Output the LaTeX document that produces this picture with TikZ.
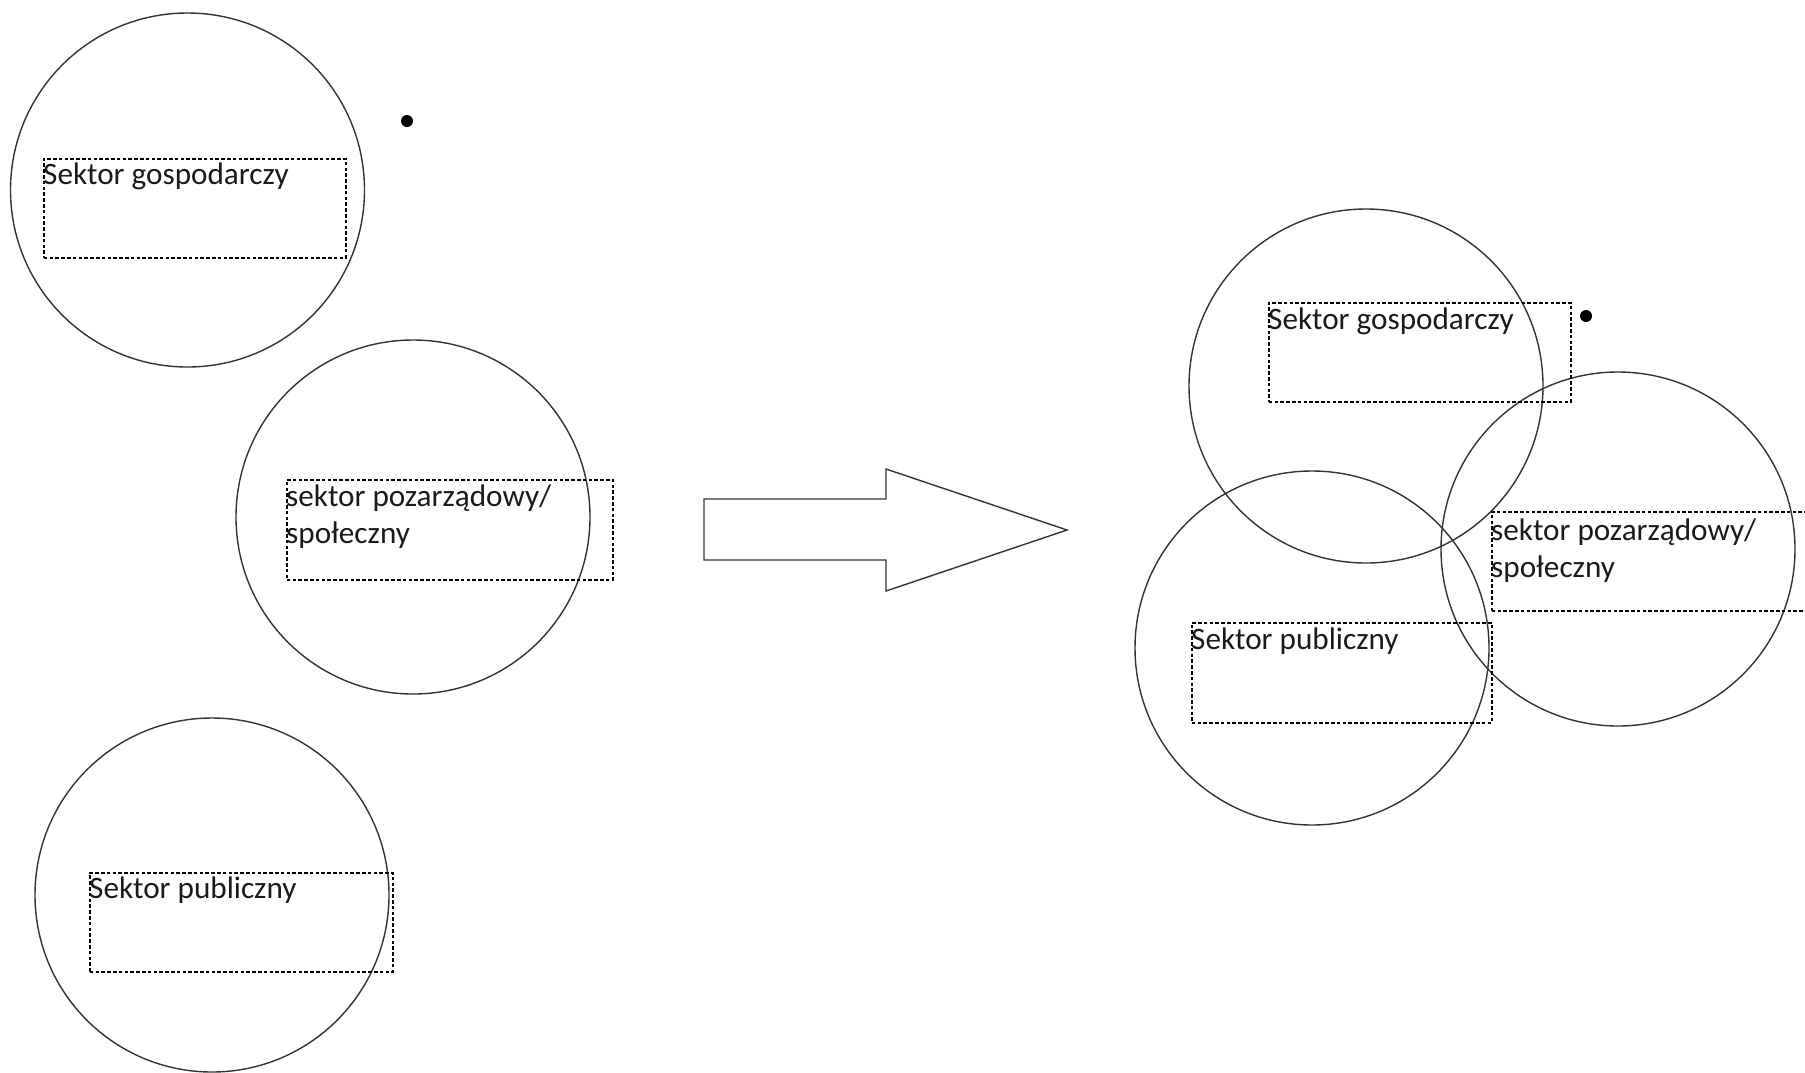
\documentclass[tikz,border=0pt]{standalone}
\usepackage{fontspec}
\setmainfont{Carlito}
\definecolor{linec}{HTML}{333333}
\definecolor{txt}{HTML}{1A1A1A}
\begin{document}
\begin{tikzpicture}[x=1pt,y=-1pt,
  sector/.style={circle, draw=linec, line width=1.4pt, minimum size=354pt, inner sep=0pt},
  tbox/.style={draw=black, dash pattern=on 3.6pt off 2.2pt, line width=1.6pt, anchor=north west, inner sep=0pt, minimum height=99pt},
  lbl/.style={anchor=base west, inner sep=0pt, font=\fontsize{31.2}{37}\selectfont, text=txt, align=left},
  dotn/.style={circle, fill=black, minimum size=12pt, inner sep=0pt},
  bigarrow/.style={draw=linec, line width=1.4pt, line join=miter}]
\clip (0,0) rectangle (1805,1072);
% left side
\node[sector] (c1) at (187.5,190) {};
\node[sector] (c2) at (413,517) {};
\node[sector] (c3) at (212,895) {};
\node[tbox, minimum width=302pt] (b1) at (43,158) {};
\node[tbox, minimum width=326pt, minimum height=100pt] (b2) at (286,479) {};
\node[tbox, minimum width=303pt] (b3) at (89,872) {};
\node[lbl] (t1) at (43,184) {Sektor gospodarczy};
\node[lbl] (t2) at (286,543) {sektor pozarządowy/\\społeczny};
\node[lbl] (t3) at (89,898) {Sektor publiczny};
\node[dotn] (d1) at (407,121) {};
% arrow
\draw[bigarrow] (704,499) -- (886,499) -- (886,469) -- (1067,530) -- (886,591) -- (886,560) -- (704,560) -- cycle;
% right side
\node[sector] (ca) at (1366,386) {};
\node[sector] (cb) at (1618,549) {};
\node[sector] (cc) at (1312,648) {};
\node[tbox, minimum width=302pt] (ba) at (1268,302) {};
\node[tbox, minimum width=326pt] (bb) at (1491,511) {};
\node[tbox, minimum width=300pt, minimum height=100pt] (bc) at (1191,622) {};
\node[lbl] (ta) at (1268,329) {Sektor gospodarczy};
\node[lbl] (tb) at (1491,577) {sektor pozarządowy/\\społeczny};
\node[lbl] (tc) at (1191,649) {Sektor publiczny};
\node[dotn] (d2) at (1586,316) {};
\end{tikzpicture}
\end{document}
